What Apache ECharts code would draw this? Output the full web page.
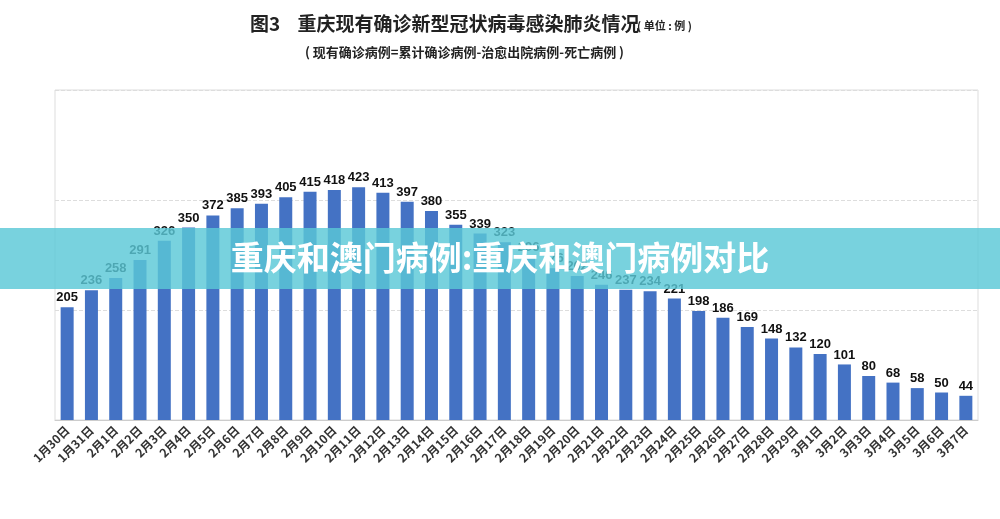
<!DOCTYPE html>
<html>
<head>
<meta charset="utf-8">
<script src="https://cdn.jsdelivr.net/npm/echarts@6/dist/echarts.min.js"></script>
<style>body{margin:0;background:#fff}</style>
</head>
<body>
<div id="main" style="width:1000px;height:519px;"></div>
<script>
var dates = ['1月30日','1月31日','2月1日','2月2日','2月3日','2月4日','2月5日','2月6日','2月7日','2月8日','2月9日','2月10日','2月11日','2月12日','2月13日','2月14日','2月15日','2月16日','2月17日','2月18日','2月19日','2月20日','2月21日','2月22日','2月23日','2月24日','2月25日','2月26日','2月27日','2月28日','2月29日','3月1日','3月2日','3月3日','3月4日','3月5日','3月6日','3月7日'];
var cases = [205,236,258,291,326,350,372,385,393,405,415,418,423,413,397,380,355,339,323,296,276,262,246,237,234,221,198,186,169,148,132,120,101,80,68,58,50,44];

var chart = echarts.init(document.getElementById('main'));
chart.setOption({
    animation: false,
    title: [
        {text: '图3    重庆现有确诊新型冠状病毒感染肺炎情况', left: 245, top: 9,
         textStyle: {fontSize: 19, fontWeight: 'bold', color: '#222', fontFamily: 'Noto Sans CJK SC'}},
        {text: '( 单位 : 例 )', left: 632, top: 15,
         textStyle: {fontSize: 11, fontWeight: 'bold', color: '#222', fontFamily: 'Noto Sans CJK SC'}},
        {text: '( 现有确诊病例=累计确诊病例-治愈出院病例-死亡病例 )', left: 300, top: 41,
         textStyle: {fontSize: 13, fontWeight: 'bold', color: '#222', fontFamily: 'Noto Sans CJK SC'}}
    ],
    grid: {left: 55, right: 22, top: 90, bottom: 99, show: true, borderColor: '#ddd', borderWidth: 1},
    xAxis: {
        type: 'category', data: dates,
        axisLine: {lineStyle: {color: '#ccc'}},
        axisTick: {show: false},
        axisLabel: {rotate: 45, interval: 0, fontSize: 12, fontWeight: 'bold', color: '#333', fontFamily: 'Noto Sans CJK SC', margin: 8}
    },
    yAxis: {
        type: 'value', min: 0, max: 600, interval: 200,
        axisLabel: {show: false},
        splitLine: {lineStyle: {color: '#ddd', type: 'dashed'}}
    },
    series: [{
        type: 'bar', data: cases, barWidth: 13,
        itemStyle: {color: '#4472C4'},
        label: {show: true, position: 'top', fontSize: 13, fontWeight: 'bold', color: '#111', fontFamily: 'Liberation Sans', distance: 3}
    }],
    graphic: [
        {type: 'rect', shape: {x: 0, y: 228, width: 1000, height: 61}, style: {fill: 'rgba(90,200,215,0.82)'}, z: 100},
        {type: 'text', left: 'center', top: 241, z: 101,
         style: {text: '重庆和澳门病例:重庆和澳门病例对比', fill: '#fff', font: 'bold 33px "Noto Sans CJK SC"'}}
    ]
});
</script>
</body>
</html>
